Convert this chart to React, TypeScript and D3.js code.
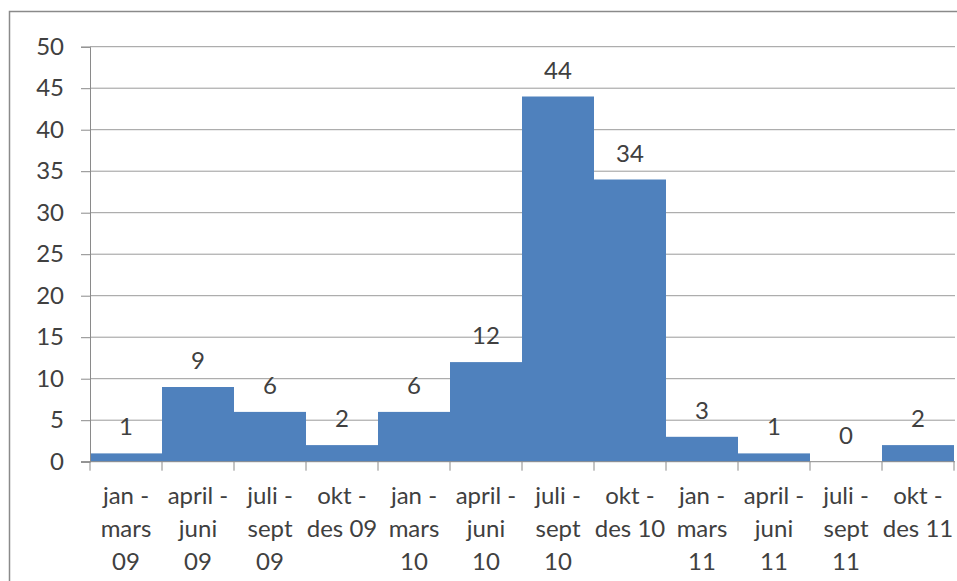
import React, { useRef, useEffect } from "react";
import * as d3 from "d3";

const CATEGORIES = [
  ["jan -", "mars", "09"],
  ["april -", "juni", "09"],
  ["juli -", "sept", "09"],
  ["okt -", "des 09"],
  ["jan -", "mars", "10"],
  ["april -", "juni", "10"],
  ["juli -", "sept", "10"],
  ["okt -", "des 10"],
  ["jan -", "mars", "11"],
  ["april -", "juni", "11"],
  ["juli -", "sept", "11"],
  ["okt -", "des 11"],
];
const VALUES = [1, 9, 6, 2, 6, 12, 44, 34, 3, 1, 0, 2];
const Y_TICKS = [0, 5, 10, 15, 20, 25, 30, 35, 40, 45, 50];

const FONT = "Lato, 'Open Sans', sans-serif";

export default function App() {
  const svgRef = useRef<SVGSVGElement>(null);

  useEffect(() => {
    const width = 957, height = 581;
    const left = 90, right = 954;
    const y = d3.scaleLinear().domain([0, 50]).range([461.7, 46.7]);
    const x = d3.scaleBand<number>()
      .domain(d3.range(VALUES.length))
      .range([left, right])
      .padding(0);

    const svg = d3.select(svgRef.current);
    svg.selectAll("*").remove();

    svg.append("rect")
      .attr("width", width).attr("height", height).attr("fill", "#fff");

    // chart frame
    svg.append("rect")
      .attr("x", 9.5).attr("y", 11.5)
      .attr("width", width).attr("height", height)
      .attr("fill", "none").attr("stroke", "#8a8a8a").attr("stroke-width", 1.5);

    // gridlines
    svg.append("g")
      .selectAll("line")
      .data(Y_TICKS.filter(d => d > 0))
      .join("line")
      .attr("x1", left).attr("x2", 955)
      .attr("y1", d => y(d)).attr("y2", d => y(d))
      .attr("stroke", "#9a9a9a").attr("stroke-width", 1);

    // bars
    svg.append("g")
      .selectAll("rect")
      .data(VALUES)
      .join("rect")
      .attr("x", (d, i) => x(i)!)
      .attr("y", d => y(d))
      .attr("width", x.bandwidth())
      .attr("height", d => y(0) - y(d))
      .attr("fill", "#4f81bd");

    // y axis
    const yAxis = svg.append("g")
      .attr("transform", `translate(${left},0)`)
      .call(d3.axisLeft(y).tickValues(Y_TICKS).tickSize(9).tickPadding(17))
      .call(g => g.select(".domain").attr("stroke", "#8a8a8a"));
    yAxis.selectAll("line").attr("stroke", "#8a8a8a");
    yAxis.selectAll("text")
      .style("font-size", "24px")
      .style("font-family", FONT)
      .style("fill", "#404040");

    // x axis line + ticks at band boundaries
    svg.append("line")
      .attr("x1", left - 9).attr("x2", 955)
      .attr("y1", y(0)).attr("y2", y(0))
      .attr("stroke", "#8a8a8a");
    svg.append("g")
      .selectAll("line")
      .data(d3.range(VALUES.length + 1))
      .join("line")
      .attr("x1", i => i < VALUES.length ? x(i)! : right)
      .attr("x2", i => i < VALUES.length ? x(i)! : right)
      .attr("y1", y(0)).attr("y2", y(0) + 9)
      .attr("stroke", "#8a8a8a");

    // category labels
    const cat = svg.append("g")
      .selectAll("text")
      .data(CATEGORIES)
      .join("text")
      .attr("x", (d, i) => x(i)! + x.bandwidth() / 2)
      .attr("y", 504)
      .attr("text-anchor", "middle")
      .style("font-size", "24px")
      .style("font-family", FONT)
      .style("fill", "#404040");
    cat.selectAll("tspan")
      .data(d => d)
      .join("tspan")
      .attr("x", function () {
        return (this.parentNode as SVGTextElement).getAttribute("x");
      })
      .attr("dy", (d, i) => (i === 0 ? 0 : 33))
      .text(d => d);

    // value labels
    svg.append("g")
      .selectAll("text")
      .data(VALUES)
      .join("text")
      .attr("x", (d, i) => x(i)! + x.bandwidth() / 2)
      .attr("y", d => y(d) - 18)
      .attr("text-anchor", "middle")
      .style("font-size", "24px")
      .style("font-family", FONT)
      .style("fill", "#404040")
      .text(d => d);
  }, []);

  return (
    <svg
      ref={svgRef}
      width={957}
      height={581}
      style={{ position: "absolute", left: 0, top: 0, display: "block" }}
    />
  );
}
